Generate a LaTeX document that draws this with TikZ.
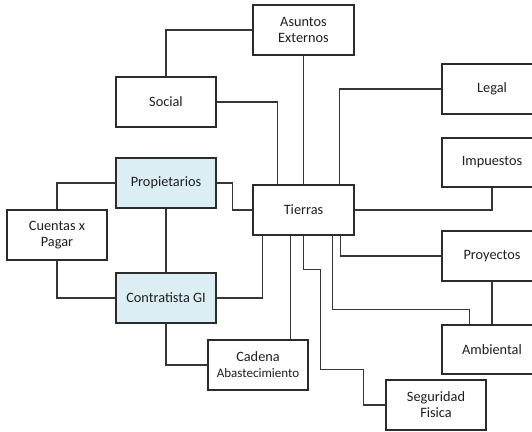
\documentclass[tikz,border=0pt]{standalone}
\usepackage{fontspec}
\setmainfont{Carlito}
\usetikzlibrary{calc}
\definecolor{boxline}{HTML}{2B2B2B}
\definecolor{wire}{HTML}{363636}
\definecolor{paleblue}{HTML}{DAEEF3}
\definecolor{ink}{HTML}{1F1F1F}
\begin{document}
\begin{tikzpicture}[x=1pt,y=-1pt,
  unit/.style={draw=boxline,line width=1.5pt,fill=white,minimum width=100pt,minimum height=50pt,
    inner sep=0pt,align=center,text=ink,font=\fontsize{14.3}{16}\selectfont},
  keyunit/.style={unit,fill=paleblue},
  wire/.style={draw=wire,line width=1.35pt}]
\clip (0,0) rectangle (532,431);
\fill[white] (0,0) rectangle (532,431);

% boxes
\node[unit,minimum width=101pt] (asuntos) at (303.5,30) {Asuntos\\Externos};
\node[unit] (social) at (166,102) {Social};
\node[keyunit] (prop) at (166,183) {Propietarios};
\node[unit] (cuentas) at (57,235) {Cuentas x\\Pagar};
\node[keyunit] (contr) at (166,298) {Contratista GI};
\node[unit] (cadena) at (258,365) {Cadena\\{\fontsize{13}{16}\selectfont Abastecimiento}};
\node[unit,minimum width=101pt] (tierras) at (303.5,210) {Tierras};
\node[unit] (legal) at (492,89) {Legal};
\node[unit,minimum height=49pt] (impuestos) at (492,162.5) {Impuestos};
\node[unit] (proyectos) at (492,256) {Proyectos};
\node[unit,minimum height=49pt] (ambiental) at (492,349.5) {Ambiental};
\node[unit] (seguridad) at (436,405) {Seguridad\\Fisica};

% attachment points along the Tierras box
\coordinate (tSocial) at ($(tierras.north west)+(25,0)$);
\coordinate (tLegal) at ($(tierras.north west)+(87,0)$);
\coordinate (tContr) at ($(tierras.south west)+(10,0)$);
\coordinate (tCadena) at ($(tierras.south west)+(38,0)$);
\coordinate (tAmb) at ($(tierras.south west)+(80,0)$);
\coordinate (tProy) at ($(tierras.south west)+(88,0)$);
\coordinate (aTop) at ($(ambiental.north west)+(28,0)$);

% connectors
\draw[wire] (social.north) |- (asuntos.west);
\draw[wire] (social.east) -| (tSocial);
\draw[wire] (asuntos.south) -- (tierras.north);
\draw[wire] (prop.east) -- ++(16,0) |- (tierras.west);
\draw[wire] (legal.west) -| (tLegal);
\draw[wire] (impuestos.south) |- (tierras.east);
\draw[wire] (tProy) |- (proyectos.west);
\draw[wire] (tAmb) |- ($(aTop)+(0,-15)$) -- (aTop);
\draw[wire] (proyectos.south) -- (ambiental.north);
\draw[wire] (tierras.south) -- ++(0,34) -- ++(17,0) -- ++(0,100) -- ++(43,0) |- (seguridad.west);
\draw[wire] (tCadena) -- (tCadena |- cadena.north);
\draw[wire] (tContr) |- (contr.east);
\draw[wire] (contr.south) |- (cadena.west);
\draw[wire] (prop.south) -- (contr.north);
\draw[wire] (prop.west) -| (cuentas.north);
\draw[wire] (cuentas.south) |- (contr.west);
\end{tikzpicture}
\end{document}
